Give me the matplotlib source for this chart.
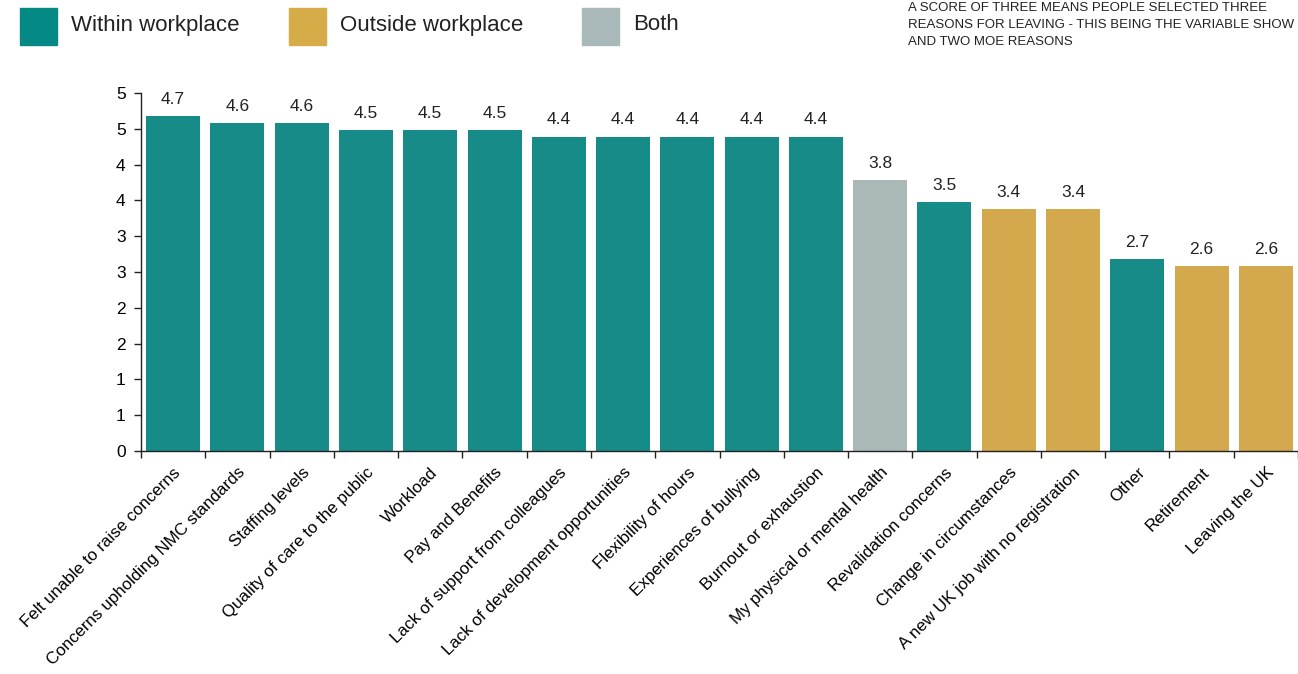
import matplotlib
matplotlib.use("Agg")
import matplotlib.pyplot as plt
from matplotlib.patches import Rectangle
from matplotlib import font_manager

names = {f.name for f in font_manager.fontManager.ttflist}
FAM = ['Liberation Sans Narrow', 'DejaVu Sans'] if 'Liberation Sans Narrow' in names else ['Liberation Sans', 'DejaVu Sans']
plt.rcParams['font.family'] = FAM

categories = [
    "Felt unable to raise concerns", "Concerns upholding NMC standards", "Staffing levels",
    "Quality of care to the public", "Workload", "Pay and Benefits",
    "Lack of support from colleagues", "Lack of development opportunities",
    "Flexibility of hours", "Experiences of bullying", "Burnout or exhaustion",
    "My physical or mental health", "Revalidation concerns", "Change in circumstances",
    "A new UK job with no registration", "Other", "Retirement", "Leaving the UK",
]
values = [4.68, 4.58, 4.58, 4.48, 4.48, 4.48, 4.39, 4.39, 4.39, 4.39, 4.39,
          3.78, 3.48, 3.38, 3.38, 2.68, 2.58, 2.58]
value_labels = ["4.7", "4.6", "4.6", "4.5", "4.5", "4.5", "4.4", "4.4", "4.4", "4.4", "4.4",
                "3.8", "3.5", "3.4", "3.4", "2.7", "2.6", "2.6"]
groups = ["Within"] * 11 + ["Both", "Within", "Outside", "Outside", "Within", "Outside", "Outside"]
y_ticks = [0, 0.5, 1, 1.5, 2, 2.5, 3, 3.5, 4, 4.5, 5]
y_tick_labels = ["0", "1", "1", "2", "2", "3", "3", "4", "4", "5", "5"]
legend_labels = ["Within workplace", "Outside workplace", "Both"]
legend_keys = ["Within", "Outside", "Both"]
colors = {"Within": "#178B88", "Outside": "#D4A84D", "Both": "#AAB8B8"}
legend_colors = {"Within": "#058985", "Outside": "#D6AC49", "Both": "#A9B8B8"}
note = ("A SCORE OF THREE MEANS PEOPLE SELECTED THREE\n"
        "REASONS FOR LEAVING - THIS BEING THE VARIABLE SHOW\n"
        "AND TWO MOE REASONS")

W, H = 1298, 674
fig = plt.figure(figsize=(W / 100, H / 100), dpi=100)
ax = fig.add_axes([141 / W, 1 - 451 / H, 1157 / W, (451 - 93) / H])

x = list(range(len(categories)))
ax.bar(x, values, width=0.84, color=[colors[g] for g in groups], zorder=2)
for xi, v, lab in zip(x, values, value_labels):
    ax.text(xi, v + 0.13, lab, ha='center', va='bottom', fontsize=12.5, color='#222222')

ax.set_xlim(-0.5, len(categories) - 0.5)
ax.set_ylim(0, 5)
ax.set_yticks(y_ticks)
ax.set_yticklabels(y_tick_labels, fontsize=12.5)
ax.set_xticks([i - 0.5 for i in range(len(categories) + 1)], minor=False)
ax.set_xticklabels([""] * (len(categories) + 1))
ax.set_xticks(x, minor=True)
ax.set_xticklabels(categories, minor=True, rotation=45, ha='right', rotation_mode='anchor', fontsize=12.2)
ax.tick_params(axis='x', which='minor', length=0, pad=10)
ax.tick_params(axis='x', which='major', length=5, width=1, color='#222222')
ax.tick_params(axis='y', length=5, width=1, color='#222222', pad=6)
for s in ['top', 'right']:
    ax.spines[s].set_visible(False)
for s in ['left', 'bottom']:
    ax.spines[s].set_linewidth(1)
    ax.spines[s].set_color('#222222')

# legend
lx = [20, 289, 582]
for px, key, lab in zip(lx, legend_keys, legend_labels):
    fig.patches.append(Rectangle((px / W, 1 - 45 / H), 37 / W, 37 / H,
                                 transform=fig.transFigure, color=legend_colors[key]))
    fig.text((px + 51) / W, 1 - 25 / H, lab, fontsize=16, va='center', ha='left', color='#222222')

fig.text(908 / W, 1 - 2 / H, note, fontsize=9.5, va='top', ha='left', color='#222222', linespacing=1.55)

fig.savefig("out.png", dpi=100)
